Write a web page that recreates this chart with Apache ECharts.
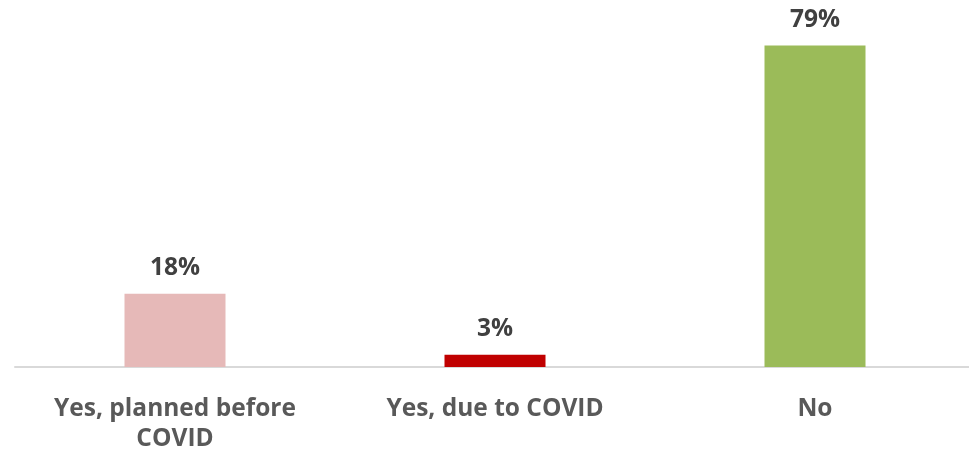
<!DOCTYPE html>
<html>
<head>
<meta charset="utf-8">
<script src="https://cdn.jsdelivr.net/npm/echarts@6/dist/echarts.min.js"></script>
<style>
  html, body { margin: 0; padding: 0; background: #ffffff; overflow: hidden; }
  #chart { width: 980px; height: 454px; }
</style>
</head>
<body>
<div id="chart"></div>
<script>
// Survey answers and their shares (percent)
const categories = ['Yes, planned before\nCOVID', 'Yes, due to COVID', 'No'];
const shares = [18, 3, 79];
const barColors = ['#e6b9b8', '#c00000', '#9bbb59'];

const chart = echarts.init(document.getElementById('chart'), null, { renderer: 'canvas' });

chart.setOption({
  animation: false,
  backgroundColor: '#ffffff',
  grid: { left: 15, top: 41.5, width: 960, height: 326, containLabel: false },
  xAxis: {
    type: 'category',
    data: categories,
    axisLine: { show: true, lineStyle: { color: '#d9d9d9', width: 2 } },
    axisTick: { show: false },
    axisLabel: {
      interval: 0,
      margin: 27,
      color: '#595959',
      fontFamily: 'Open Sans',
      fontWeight: 'bold',
      fontSize: 24.5,
      lineHeight: 30,
      align: 'center'
    }
  },
  yAxis: {
    type: 'value',
    min: 0,
    max: 80,
    show: false,
    splitLine: { show: false }
  },
  series: [{
    type: 'bar',
    barWidth: 101,
    data: shares.map((v, i) => ({ value: v, itemStyle: { color: barColors[i] } })),
    label: {
      show: true,
      position: 'top',
      distance: 13,
      formatter: p => p.value + '%',
      color: '#404040',
      fontFamily: 'Open Sans',
      fontWeight: 'bold',
      fontSize: 24.5
    }
  }]
});
</script>
</body>
</html>
